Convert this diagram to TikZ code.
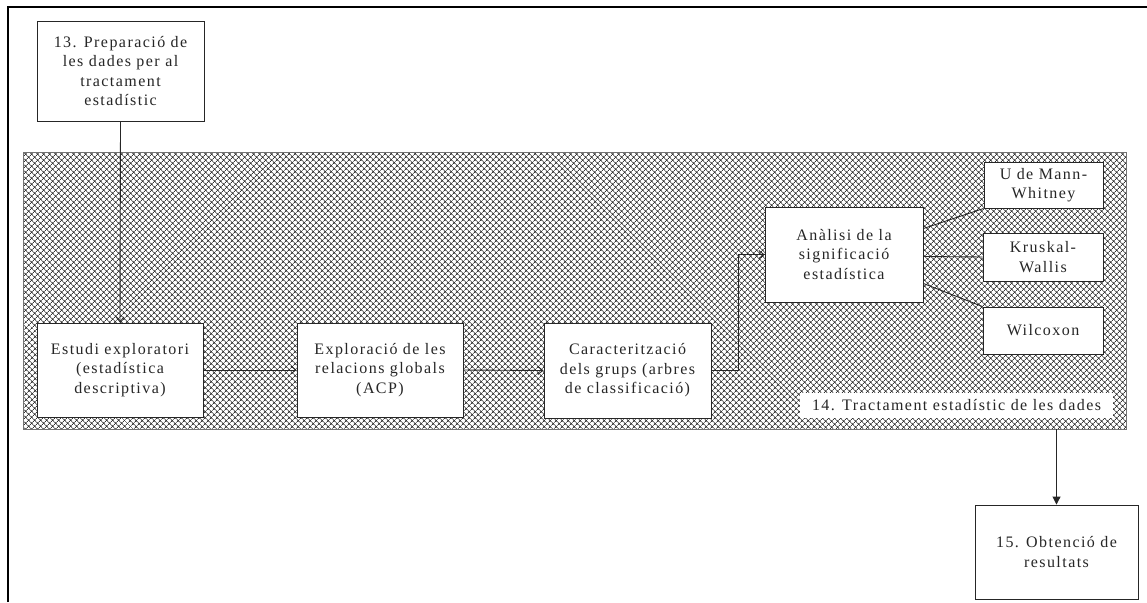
\documentclass[tikz,border=0pt]{standalone}
\usepackage{fontspec}
\setmainfont{Liberation Serif}[LetterSpace=9]
\usetikzlibrary{patterns.meta,arrows.meta}
\begin{document}
\begin{tikzpicture}[x=1pt,y=-1pt,
  font=\fontsize{16}{19.5}\selectfont,
  every node/.style={text=black!85},
  box/.style={draw=black!85,line width=0.9pt,fill=white,align=center,inner sep=0pt},
  grpbox/.style={draw=black!55,line width=0.8pt,inner sep=0pt,
    pattern={Hatch[angle=45,distance=4pt,line width=0.8pt]},pattern color=black!80},
  conn/.style={draw=black!85,line width=0.9pt},
  arr/.style={conn,-{Straight Barb[length=5pt,width=8pt,line width=0.9pt]}},
  farr/.style={conn,-{Triangle[length=8pt,width=8pt]}}]
\useasboundingbox (0,0) rectangle (1147,602);
\fill[white] (0,0) rectangle (1147,602);
% outer frame (top and left only)
\draw[line width=2pt] (8,602) -- (8,7) -- (1147,7);
% hatched group
\node[grpbox,minimum width=1103pt,minimum height=277pt] (grp) at (574.5,290.5) {};
\node[fill=white,inner sep=0pt,minimum width=313pt,minimum height=25pt] (lab) at (956.5,405.5) {14. Tractament estadístic de les dades};
% boxes
\node[box,minimum width=167pt,minimum height=100pt] (b13) at (120.5,71) {13. Preparació de\\les dades per al\\tractament\\estadístic};
\node[box,minimum width=166pt,minimum height=94pt] (est) at (120,370) {Estudi exploratori\\(estadística\\descriptiva)};
\node[box,minimum width=166pt,minimum height=94pt] (exp) at (380,370) {Exploració de les\\relacions globals\\(ACP)};
\node[box,minimum width=167pt,minimum height=95pt] (car) at (627.5,370.5) {Caracterització\\dels grups (arbres\\de classificació)};
\node[box,minimum width=158pt,minimum height=95pt] (ana) at (844,254.5) {Anàlisi de la\\significació\\estadística};
\node[box,minimum width=119pt,minimum height=46pt] (mw) at (1043.5,185) {U de Mann-\\Whitney};
\node[box,minimum width=120pt,minimum height=48pt] (kw) at (1043,257) {Kruskal-\\Wallis};
\node[box,minimum width=120pt,minimum height=47pt] (wil) at (1043,330.5) {Wilcoxon};
\node[box,minimum width=163pt,minimum height=94pt] (out) at (1056.5,552) {15. Obtenció de\\resultats};
% connectors
\draw[arr] (b13.south) -- (est.north);
\draw[arr] (est.east) -- (exp.west);
\draw[arr] (exp.east) -- (car.west);
\draw[arr] (car.east) -- ++(27,0) |- (ana.west);
\draw[conn] ([yshift=26pt]ana.east) -- (mw.south west);
\draw[conn] ([yshift=-2pt]ana.east) -- (kw.west);
\draw[conn] ([yshift=-29pt]ana.east) -- (wil.north west);
\draw[farr] (grp.south -| out.north) -- (out.north);
\end{tikzpicture}
\end{document}
